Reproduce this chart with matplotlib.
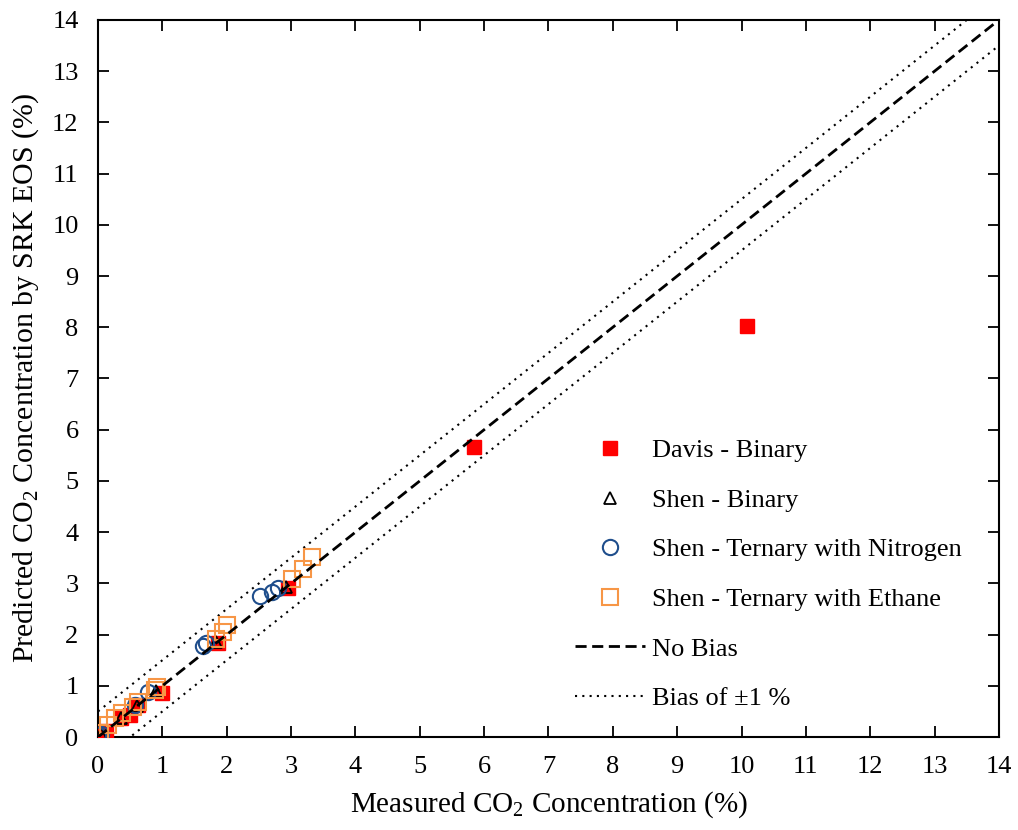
import matplotlib
matplotlib.use('Agg')
import matplotlib.pyplot as plt
import numpy as np

plt.rcParams['font.family'] = ['Liberation Serif', 'DejaVu Serif']
plt.rcParams['mathtext.fontset'] = 'custom'
plt.rcParams['mathtext.rm'] = 'Liberation Serif'

# Davis - Binary
davis_x = [0.05, 0.12, 0.36, 0.5, 0.62, 1.0, 1.86, 2.95, 5.85, 10.08]
davis_y = [0.05, 0.12, 0.38, 0.43, 0.62, 0.86, 1.84, 2.9, 5.66, 8.03]
# Shen - Binary
shen_bin_x = [0.05, 0.35, 0.6, 0.9, 1.83, 2.92]
shen_bin_y = [0.05, 0.37, 0.6, 0.9, 1.86, 2.92]
# Shen - Ternary with Nitrogen
shen_n2_x = [0.0, 0.05, 0.57, 0.78, 1.63, 1.68, 2.52, 2.7, 2.8]
shen_n2_y = [0.04, 0.06, 0.62, 0.88, 1.78, 1.83, 2.75, 2.84, 2.9]
# Shen - Ternary with Ethane
shen_c2_x = [0.03, 0.16, 0.26, 0.37, 0.55, 0.62, 0.89, 0.92, 1.84, 1.94, 2.0, 3.01, 3.18, 3.32]
shen_c2_y = [0.08, 0.23, 0.37, 0.47, 0.58, 0.68, 0.92, 0.98, 1.92, 2.05, 2.19, 3.09, 3.28, 3.52]

lim = [0, 14]
bias = 0.5

fig = plt.figure(figsize=(10.18, 8.30), dpi=100)
ax = fig.add_axes([0.0963, 0.112, 0.885, 0.864])

ax.plot(davis_x, davis_y, 's', color='#FF0000', ms=10.5, mec='#FF0000',
        label='Davis - Binary', zorder=3)
ax.plot(shen_bin_x, shen_bin_y, '^', color='none', mec='black', mew=1.3, ms=8,
        label='Shen - Binary', zorder=4)
ax.plot(shen_n2_x, shen_n2_y, 'o', color='none', mec='#1F4E8C', mew=1.5, ms=11,
        label='Shen - Ternary with Nitrogen', zorder=4)
ax.plot(shen_c2_x, shen_c2_y, 's', color='none', mec='#F79646', mew=1.5, ms=12,
        label='Shen - Ternary with Ethane', zorder=4)

xx = np.array(lim)
ax.plot(xx, xx, color='black', lw=2, linestyle=(0, (4, 2)), label='No Bias', zorder=5)
ax.plot(xx, xx + bias, color='black', lw=1.5, linestyle=(0, (1, 2.5)),
        label='Bias of \u00b11 %', zorder=2)
ax.plot(xx, xx - bias, color='black', lw=1.5, linestyle=(0, (1, 2.5)), zorder=2)

ax.set_xlim(lim)
ax.set_ylim(lim)
ax.set_xticks(range(0, 15))
ax.set_yticks(range(0, 15))
ax.tick_params(direction='in', top=True, right=True, length=8, width=1.3,
               labelsize=19, pad=14)
for s in ax.spines.values():
    s.set_linewidth(1.5)

ax.set_xlabel('Measured CO$_2$ Concentration (%)', fontsize=21, labelpad=8)
ax.set_ylabel('Predicted CO$_2$ Concentration by SRK EOS (%)', fontsize=21.5, labelpad=8)

ax.legend(loc='upper left', bbox_to_anchor=(0.529, 0.416), frameon=False,
          fontsize=19, handlelength=2.65, handletextpad=0.27, labelspacing=0.99,
          borderpad=0, borderaxespad=0, numpoints=1)

fig.savefig('out.png', dpi=100)
